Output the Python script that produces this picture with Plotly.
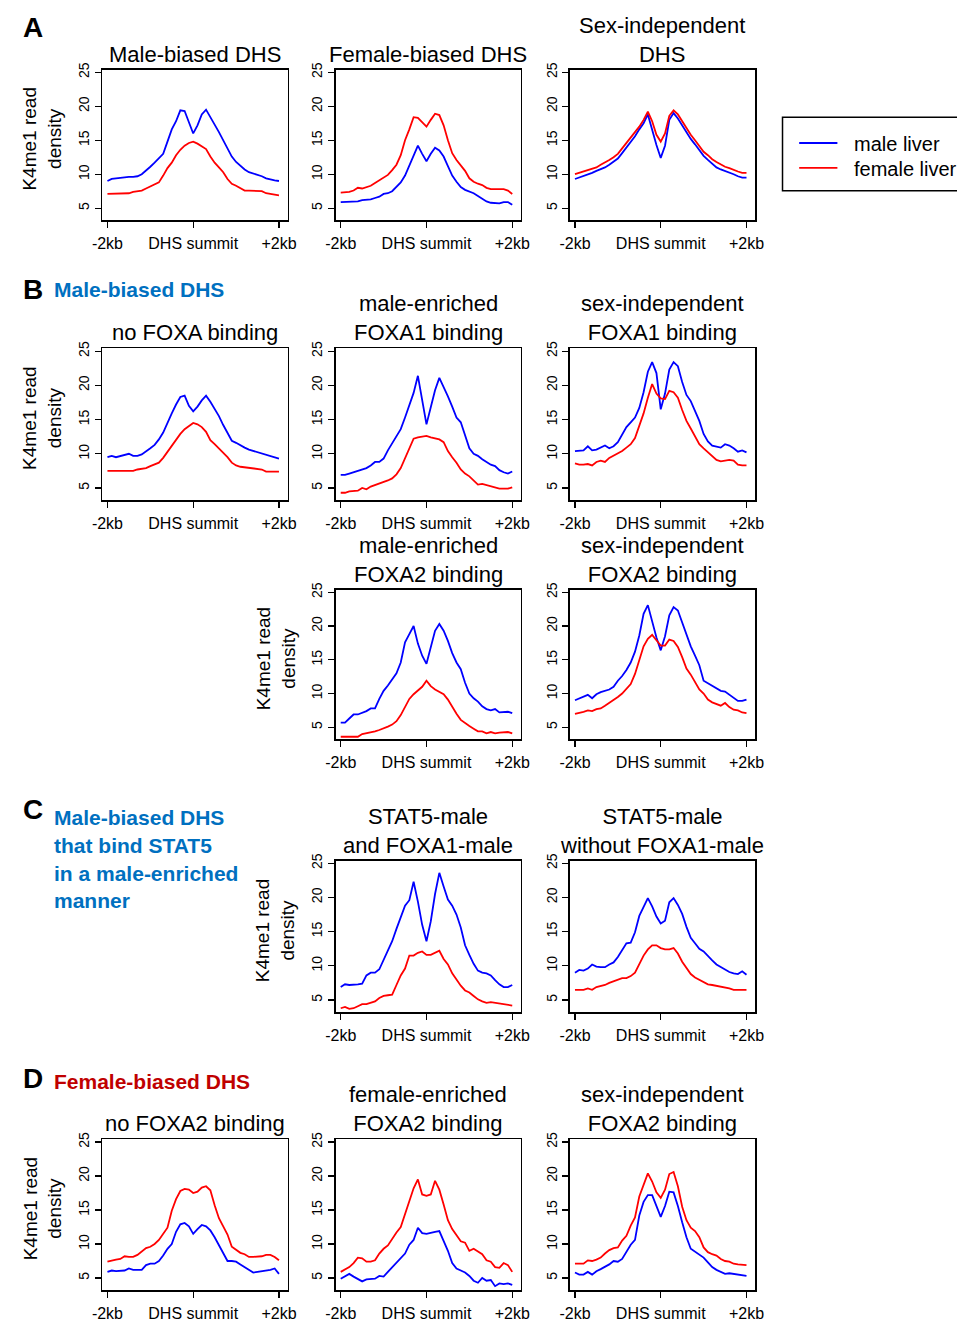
import plotly.graph_objects as go

# Window is 965x1322; the page body keeps its default 8px margin, so the figure
# starts at (8, 8) and is sized to end exactly at the window's right/bottom edges.
WIN_W, WIN_H = 965, 1322
OFF = 8
W, H = WIN_W - OFF, WIN_H - OFF
FONT = "Liberation Sans, Arial, sans-serif"
BLUE = "#0000FF"
RED = "#FF0000"
HEAD_BLUE = "#0070C0"
HEAD_RED = "#C00000"

# ---------------- data ----------------
bins_kb = [-2.0, -1.9, -1.8, -1.7, -1.6, -1.5, -1.4, -1.3, -1.2, -1.1, -1.0,
           -0.9, -0.8, -0.7, -0.6, -0.5, -0.4, -0.3, -0.2, -0.1, 0.0,
           0.1, 0.2, 0.3, 0.4, 0.5, 0.6, 0.7, 0.8, 0.9, 1.0,
           1.1, 1.2, 1.3, 1.4, 1.5, 1.6, 1.7, 1.8, 1.9, 2.0]
x_tick_vals = [-2, 0, 2]
x_tick_text = ["-2kb", "DHS summit", "+2kb"]
y_tick_vals = [5, 10, 15, 20, 25]
legend_labels = ["male liver", "female liver"]
y_title = "K4me1 read<br>density"

# A: male-biased DHS
a1_male = [9.0, 9.3, 9.4, 9.5, 9.6, 9.6, 9.6, 9.7, 10.0, 10.5, 11.1, 11.7, 12.3, 13.0, 14.8, 16.6, 17.8, 19.4, 19.3, 17.6, 16.0,
           17.2, 18.8, 19.5, 18.5, 17.3, 16.2, 15.0, 13.8, 12.6, 11.8, 11.2, 10.7, 10.3, 10.1, 10.0, 9.7, 9.4, 9.2, 9.1, 9.0]
a1_female = [7.1, 7.1, 7.1, 7.1, 7.1, 7.2, 7.4, 7.5, 7.6, 7.9, 8.2, 8.5, 8.8, 9.8, 10.9, 11.7, 12.8, 13.6, 14.2, 14.6, 14.8,
             14.5, 14.1, 13.7, 12.6, 11.7, 11.0, 10.3, 9.3, 8.6, 8.3, 7.9, 7.6, 7.6, 7.6, 7.6, 7.5, 7.2, 7.1, 7.1, 6.9]
# A: female-biased DHS
a2_male = [5.9, 5.9, 5.9, 5.9, 6.0, 6.2, 6.2, 6.3, 6.5, 6.7, 7.1, 7.2, 7.5, 8.2, 8.8, 9.8, 11.2, 12.8, 14.2, 13.0, 11.9,
           13.0, 13.9, 13.5, 12.6, 11.2, 9.8, 8.9, 8.1, 7.7, 7.5, 7.2, 6.8, 6.4, 6.0, 5.8, 5.7, 5.7, 5.9, 5.9, 5.5]
a2_female = [7.3, 7.3, 7.4, 7.6, 8.0, 7.9, 8.1, 8.3, 8.7, 9.1, 9.5, 9.9, 10.6, 11.4, 12.8, 15.0, 16.6, 18.4, 18.3, 17.6, 17.0,
             18.0, 18.9, 18.7, 17.2, 15.0, 13.1, 12.1, 11.3, 10.5, 9.4, 8.9, 8.6, 8.4, 8.0, 7.8, 7.8, 7.8, 7.8, 7.6, 7.1]
# A: sex-independent DHS
a3_male = [9.3, 9.5, 9.7, 10.0, 10.2, 10.5, 10.7, 11.0, 11.4, 11.8, 12.3, 13.1, 13.9, 14.8, 15.6, 16.6, 17.5, 18.8, 16.5, 14.3, 12.4,
           14.2, 18.0, 19.0, 18.2, 17.2, 16.0, 15.2, 14.4, 13.5, 12.7, 12.1, 11.5, 11.0, 10.7, 10.5, 10.2, 10.0, 9.7, 9.5, 9.5]
a3_female = [10.0, 10.2, 10.3, 10.6, 10.8, 11.0, 11.4, 11.7, 12.1, 12.5, 13.0, 13.8, 14.6, 15.4, 16.2, 17.0, 18.0, 19.2, 17.8, 15.8, 14.8,
             16.0, 18.6, 19.4, 18.8, 17.8, 16.7, 15.8, 15.0, 14.2, 13.3, 12.8, 12.2, 11.8, 11.4, 11.1, 10.9, 10.6, 10.4, 10.2, 10.2]

# B: male-biased DHS, no FOXA binding
b1_male = [9.5, 9.7, 9.5, 9.7, 9.8, 10.0, 9.7, 9.7, 9.9, 10.3, 10.8, 11.3, 12.1, 13.1, 14.6, 15.9, 17.2, 18.3, 18.5, 17.0, 16.2,
           16.9, 17.8, 18.5, 17.6, 16.6, 15.5, 14.2, 13.0, 11.9, 11.6, 11.2, 10.9, 10.6, 10.4, 10.3, 10.0, 9.8, 9.7, 9.5, 9.3]
b1_female = [7.5, 7.5, 7.5, 7.5, 7.5, 7.4, 7.5, 7.7, 7.8, 7.9, 8.2, 8.5, 8.7, 9.4, 10.3, 11.2, 12.0, 12.9, 13.6, 14.1, 14.5,
             14.3, 13.9, 13.2, 12.0, 11.4, 10.8, 10.1, 9.5, 8.7, 8.3, 8.1, 8.0, 7.9, 7.8, 7.8, 7.7, 7.4, 7.4, 7.4, 7.4]
# B: male-enriched FOXA1 binding
b2_male = [6.9, 6.9, 7.1, 7.3, 7.5, 7.7, 7.9, 8.3, 8.8, 8.8, 9.3, 10.5, 11.5, 12.4, 13.6, 15.3, 17.0, 18.9, 21.4, 17.6, 14.3,
           16.8, 19.3, 21.1, 19.8, 18.4, 16.9, 15.3, 14.6, 12.6, 10.8, 10.0, 9.7, 9.2, 8.8, 8.4, 8.2, 7.6, 7.3, 7.1, 7.4]
b2_female = [4.3, 4.3, 4.5, 4.5, 4.6, 5.0, 4.8, 5.2, 5.4, 5.6, 5.8, 6.1, 6.4, 7.0, 7.9, 9.3, 10.8, 12.2, 12.4, 12.5, 12.6,
             12.4, 12.3, 12.1, 11.7, 10.4, 9.5, 8.7, 7.7, 7.1, 6.7, 6.1, 5.5, 5.6, 5.4, 5.2, 5.0, 4.9, 4.9, 4.9, 5.1]
# B: sex-independent FOXA1 binding
b3_male = [10.4, 10.4, 10.5, 11.1, 10.5, 10.6, 10.9, 11.2, 10.8, 11.1, 11.7, 12.7, 13.9, 14.6, 15.3, 16.7, 19.0, 22.0, 23.4, 21.8, 16.5,
           18.8, 22.3, 23.4, 22.8, 20.5, 18.6, 17.7, 16.3, 14.8, 12.9, 11.8, 11.2, 11.0, 10.9, 11.4, 11.2, 10.8, 10.3, 10.5, 10.2]
b3_female = [8.6, 8.4, 8.4, 8.5, 8.3, 8.8, 9.0, 8.8, 9.4, 9.7, 10.0, 10.4, 10.9, 11.4, 12.3, 14.0, 15.9, 18.2, 20.2, 18.8, 18.1,
             18.0, 19.2, 19.0, 18.2, 16.4, 14.8, 13.7, 12.6, 11.4, 10.8, 10.2, 9.6, 9.1, 8.9, 9.0, 9.1, 9.0, 8.4, 8.3, 8.3]
# B: male-enriched FOXA2 binding
b4_male = [5.7, 5.7, 6.3, 6.9, 6.9, 7.1, 7.4, 7.8, 7.8, 9.2, 10.4, 11.2, 12.2, 13.0, 14.6, 17.6, 18.8, 20.0, 17.4, 15.6, 14.4,
           16.8, 19.3, 20.3, 19.3, 17.8, 16.0, 14.6, 13.6, 11.6, 10.0, 9.3, 8.8, 8.1, 7.7, 7.5, 7.7, 7.2, 7.3, 7.3, 7.1]
b4_female = [3.6, 3.6, 3.6, 3.6, 3.6, 4.0, 4.1, 4.3, 4.4, 4.6, 4.8, 5.1, 5.4, 5.9, 6.8, 8.1, 9.2, 9.9, 10.5, 11.0, 11.9,
             11.1, 10.6, 10.3, 9.9, 9.1, 8.0, 7.0, 6.1, 5.6, 5.2, 4.8, 4.4, 4.4, 4.1, 4.3, 4.1, 4.2, 4.3, 4.3, 4.1]
# B: sex-independent FOXA2 binding
b5_male = [9.0, 9.3, 9.6, 9.8, 9.3, 9.9, 10.2, 10.4, 10.6, 11.0, 11.9, 12.6, 13.5, 14.6, 16.2, 18.6, 21.8, 23.1, 20.5, 18.3, 16.4,
           18.5, 21.6, 22.8, 22.3, 20.5, 18.9, 17.0, 15.6, 14.2, 11.9, 11.5, 11.2, 10.7, 10.4, 10.3, 9.8, 9.3, 8.9, 8.9, 9.1]
b5_female = [7.0, 7.1, 7.3, 7.5, 7.4, 7.7, 7.8, 8.2, 8.6, 9.0, 9.5, 10.0, 10.7, 11.4, 12.9, 14.9, 17.0, 18.1, 18.7, 17.9, 17.1,
             17.1, 18.0, 17.8, 16.9, 15.4, 13.7, 12.8, 11.6, 10.6, 10.0, 9.1, 8.7, 8.4, 8.2, 8.6, 8.0, 7.6, 7.5, 7.2, 7.1]

# C: STAT5-male and FOXA1-male
c1_male = [6.9, 7.3, 7.2, 7.2, 7.3, 7.4, 8.6, 9.0, 9.0, 9.5, 10.8, 12.2, 13.6, 15.4, 17.1, 18.8, 19.6, 22.3, 19.4, 16.0, 13.6,
           16.5, 20.5, 23.6, 21.6, 19.7, 18.8, 17.5, 15.6, 13.0, 11.6, 10.3, 9.3, 9.0, 8.9, 8.6, 7.9, 7.3, 6.9, 6.9, 7.2]
c1_female = [3.8, 4.0, 3.7, 3.8, 4.1, 4.4, 4.4, 4.6, 4.8, 5.3, 5.6, 5.7, 5.8, 7.2, 8.6, 9.6, 11.5, 11.5, 11.9, 12.1, 11.6,
             11.6, 11.9, 12.2, 11.0, 10.2, 8.9, 8.0, 7.1, 6.4, 6.1, 5.6, 5.1, 4.8, 4.6, 4.7, 4.6, 4.5, 4.4, 4.4, 4.2]
# C: STAT5-male without FOXA1-male
c2_male = [9.0, 9.4, 9.3, 9.6, 10.2, 9.9, 9.8, 9.8, 10.2, 10.5, 11.3, 12.4, 13.3, 13.4, 14.9, 17.3, 18.5, 19.9, 18.7, 17.2, 16.2,
           16.6, 19.3, 19.9, 18.9, 17.6, 15.7, 14.1, 13.3, 12.5, 12.1, 11.4, 10.8, 10.2, 9.8, 9.4, 9.1, 8.9, 8.8, 9.2, 8.7]
c2_female = [6.5, 6.5, 6.5, 6.7, 6.5, 6.9, 7.0, 7.2, 7.5, 7.7, 8.0, 8.2, 8.2, 8.5, 9.0, 10.3, 11.5, 12.4, 13.0, 13.0, 12.6,
             12.4, 12.4, 12.6, 11.8, 10.6, 9.6, 8.8, 8.3, 8.0, 7.6, 7.3, 7.2, 7.1, 7.0, 6.9, 6.7, 6.5, 6.5, 6.5, 6.5]

# D: female-biased DHS, no FOXA2 binding
d1_male = [5.9, 6.1, 6.0, 6.0, 6.1, 6.4, 6.2, 6.2, 6.2, 6.9, 7.1, 7.1, 7.5, 8.3, 9.3, 10.0, 11.8, 12.9, 13.1, 12.6, 11.5,
           12.2, 12.8, 12.6, 12.0, 11.0, 9.9, 8.8, 7.5, 7.5, 7.4, 7.0, 6.6, 6.2, 5.8, 5.9, 6.0, 6.0, 6.2, 6.4, 5.6]
d1_female = [7.4, 7.6, 7.7, 7.8, 8.2, 8.1, 8.1, 8.4, 8.9, 9.4, 9.6, 10.0, 10.6, 11.6, 12.4, 14.9, 16.6, 17.8, 18.1, 18.0, 17.5,
             17.7, 18.3, 18.5, 17.9, 15.7, 13.8, 12.6, 11.4, 9.6, 9.1, 8.7, 8.5, 8.1, 8.1, 8.1, 8.2, 8.4, 8.4, 8.1, 7.6]
# D: female-enriched FOXA2 binding
d2_male = [4.9, 5.3, 5.6, 5.2, 4.8, 4.5, 4.8, 4.9, 4.9, 5.3, 5.2, 5.9, 6.6, 7.3, 7.9, 8.6, 9.9, 10.6, 12.4, 11.6, 11.5,
           11.7, 11.8, 11.9, 10.5, 9.0, 7.2, 6.4, 6.1, 5.8, 5.3, 4.6, 4.3, 5.0, 4.6, 4.7, 3.8, 4.2, 4.1, 4.2, 4.0]
d2_female = [5.9, 6.2, 6.6, 7.2, 8.0, 7.9, 7.4, 7.4, 7.6, 8.6, 9.3, 9.8, 10.8, 11.7, 12.5, 14.4, 16.2, 18.2, 19.5, 17.3, 17.1,
             17.3, 19.3, 18.0, 15.8, 13.5, 12.2, 11.2, 10.4, 10.2, 9.0, 9.3, 8.9, 8.5, 7.6, 7.4, 6.6, 6.5, 7.2, 6.9, 5.9]
# D: sex-independent FOXA2 binding
d3_male = [5.8, 5.5, 5.5, 5.9, 5.5, 6.0, 6.3, 6.6, 7.0, 7.5, 7.4, 7.8, 8.8, 9.9, 10.6, 14.2, 16.2, 17.2, 17.2, 15.6, 14.0,
           15.6, 17.7, 17.6, 15.6, 13.2, 11.0, 9.3, 8.9, 8.5, 8.0, 7.3, 6.6, 6.2, 5.9, 5.6, 5.7, 5.6, 5.5, 5.4, 5.3]
d3_female = [7.1, 7.1, 7.1, 7.6, 7.5, 7.7, 8.0, 8.6, 9.1, 9.4, 9.5, 10.5, 11.2, 12.7, 13.9, 17.0, 18.8, 20.4, 19.2, 17.6, 16.8,
             18.0, 20.3, 20.6, 18.5, 15.5, 13.5, 12.4, 11.9, 11.0, 9.5, 8.8, 8.5, 8.3, 7.8, 7.5, 7.4, 7.1, 7.0, 6.9, 6.9]

# ---------------- layout geometry (window pixels) ----------------
COLS = {1: (94, 283), 2: (332, 521), 3: (571, 760)}
ROWS = {"A": (63, 215), "B": (344, 497), "B2": (587, 738), "C": (860, 1013), "D": (1141, 1293)}

panels = [
    ("A", 1, "Male-biased DHS", a1_male, a1_female, True),
    ("A", 2, "Female-biased DHS", a2_male, a2_female, False),
    ("A", 3, "Sex-independent<br>DHS", a3_male, a3_female, False),
    ("B", 1, "no FOXA binding", b1_male, b1_female, True),
    ("B", 2, "male-enriched<br>FOXA1 binding", b2_male, b2_female, False),
    ("B", 3, "sex-independent<br>FOXA1 binding", b3_male, b3_female, False),
    ("B2", 2, "male-enriched<br>FOXA2 binding", b4_male, b4_female, True),
    ("B2", 3, "sex-independent<br>FOXA2 binding", b5_male, b5_female, False),
    ("C", 2, "STAT5-male<br>and FOXA1-male", c1_male, c1_female, True),
    ("C", 3, "STAT5-male<br>without FOXA1-male", c2_male, c2_female, False),
    ("D", 1, "no FOXA2 binding", d1_male, d1_female, True),
    ("D", 2, "female-enriched<br>FOXA2 binding", d2_male, d2_female, False),
    ("D", 3, "sex-independent<br>FOXA2 binding", d3_male, d3_female, False),
]


def px(x):
    return (x - OFF) / W


def py(y):
    return 1 - (y - OFF) / H


fig = go.Figure()
layout = dict(
    width=W, height=H,
    margin=dict(l=0, r=0, t=0, b=0),
    paper_bgcolor="white", plot_bgcolor="white",
    showlegend=False,
    font=dict(family=FONT, color="black"),
)
annotations = []
shapes = []

for i, (row, col, title, male, female, has_ytitle) in enumerate(panels, start=1):
    x0, x1 = COLS[col]
    y0, y1 = ROWS[row]
    xa = "x" if i == 1 else f"x{i}"
    ya = "y" if i == 1 else f"y{i}"
    fig.add_trace(go.Scatter(x=bins_kb, y=male, mode="lines",
                             line=dict(color=BLUE, width=1.8),
                             xaxis=xa, yaxis=ya, hoverinfo="skip"))
    fig.add_trace(go.Scatter(x=bins_kb, y=female, mode="lines",
                             line=dict(color=RED, width=1.8),
                             xaxis=xa, yaxis=ya, hoverinfo="skip"))
    xkey = "xaxis" if i == 1 else f"xaxis{i}"
    ykey = "yaxis" if i == 1 else f"yaxis{i}"
    layout[xkey] = dict(
        domain=[px(x0), px(x1)], anchor=ya, range=[-2.12, 2.2],
        tickmode="array", tickvals=x_tick_vals, ticktext=x_tick_text,
        ticks="outside", ticklen=6, tickwidth=1.2, tickcolor="black",
        showline=True, mirror=True, linecolor="black", linewidth=1.5,
        showgrid=False, zeroline=False, fixedrange=True,
        tickfont=dict(family=FONT, size=16, color="black"),
        ticklabelstandoff=2,
    )
    layout[ykey] = dict(
        domain=[py(y1), py(y0)], anchor=xa, range=[3.2, 25.4],
        tickmode="array", tickvals=y_tick_vals,
        ticks="outside", ticklen=6, tickwidth=1.2, tickcolor="black",
        tickangle=-90,
        showline=True, mirror=True, linecolor="black", linewidth=1.5,
        showgrid=False, zeroline=False, fixedrange=True,
        tickfont=dict(family=FONT, size=14, color="black"),
    )
    annotations.append(dict(
        text=title, xref="paper", yref="paper",
        x=px((x0 + x1) / 2), y=py(y0 - 1), xanchor="center", yanchor="bottom",
        showarrow=False, font=dict(family=FONT, size=22, color="black"),
    ))
    if has_ytitle:
        annotations.append(dict(
            text=y_title, xref="paper", yref="paper",
            x=px(x0 - 61), y=py((y0 + y1) / 2 - 6), xanchor="center", yanchor="middle",
            textangle=-90, showarrow=False,
            font=dict(family=FONT, size=19, color="black"),
        ))

# Panel letters and section headings
for letter, lx, ly in [("A", 23, 21), ("B", 23, 285), ("C", 23, 809), ("D", 23, 1080)]:
    annotations.append(dict(text=f"<b>{letter}</b>", xref="paper", yref="paper",
                            x=px(lx), y=py(ly), xanchor="center", yanchor="middle",
                            showarrow=False, font=dict(family=FONT, size=28, color="black")))

headings = [
    ("Male-biased DHS", 285, HEAD_BLUE),
    ("Male-biased DHS", 817, HEAD_BLUE),
    ("that bind STAT5", 845, HEAD_BLUE),
    ("in a male-enriched", 873, HEAD_BLUE),
    ("manner", 900, HEAD_BLUE),
    ("Female-biased DHS", 1083, HEAD_RED),
]
for txt, hy, colr in headings:
    annotations.append(dict(text=f"<b>{txt}</b>", xref="paper", yref="paper",
                            x=px(43), y=py(hy), xanchor="left", yanchor="middle",
                            showarrow=False, font=dict(family=FONT, size=21, color=colr)))

# Legend (drawn manually; its right side runs off the window as in the reference)
shapes.append(dict(type="rect", xref="paper", yref="paper",
                   x0=px(788), x1=px(1000), y0=py(185), y1=py(111),
                   line=dict(color="black", width=1.5), fillcolor="white", layer="below"))
for lbl, colr, ly in [(legend_labels[0], BLUE, 137), (legend_labels[1], RED, 162)]:
    shapes.append(dict(type="line", xref="paper", yref="paper",
                       x0=px(805), x1=px(844), y0=py(ly), y1=py(ly),
                       line=dict(color=colr, width=1.8)))
    annotations.append(dict(text=lbl, xref="paper", yref="paper",
                            x=px(859), y=py(ly + 1), xanchor="left", yanchor="middle",
                            showarrow=False, font=dict(family=FONT, size=20, color="black")))

layout["annotations"] = annotations
layout["shapes"] = shapes
fig.update_layout(**layout)

fig.write_html("out.html", config={"displayModeBar": False, "staticPlot": True})
